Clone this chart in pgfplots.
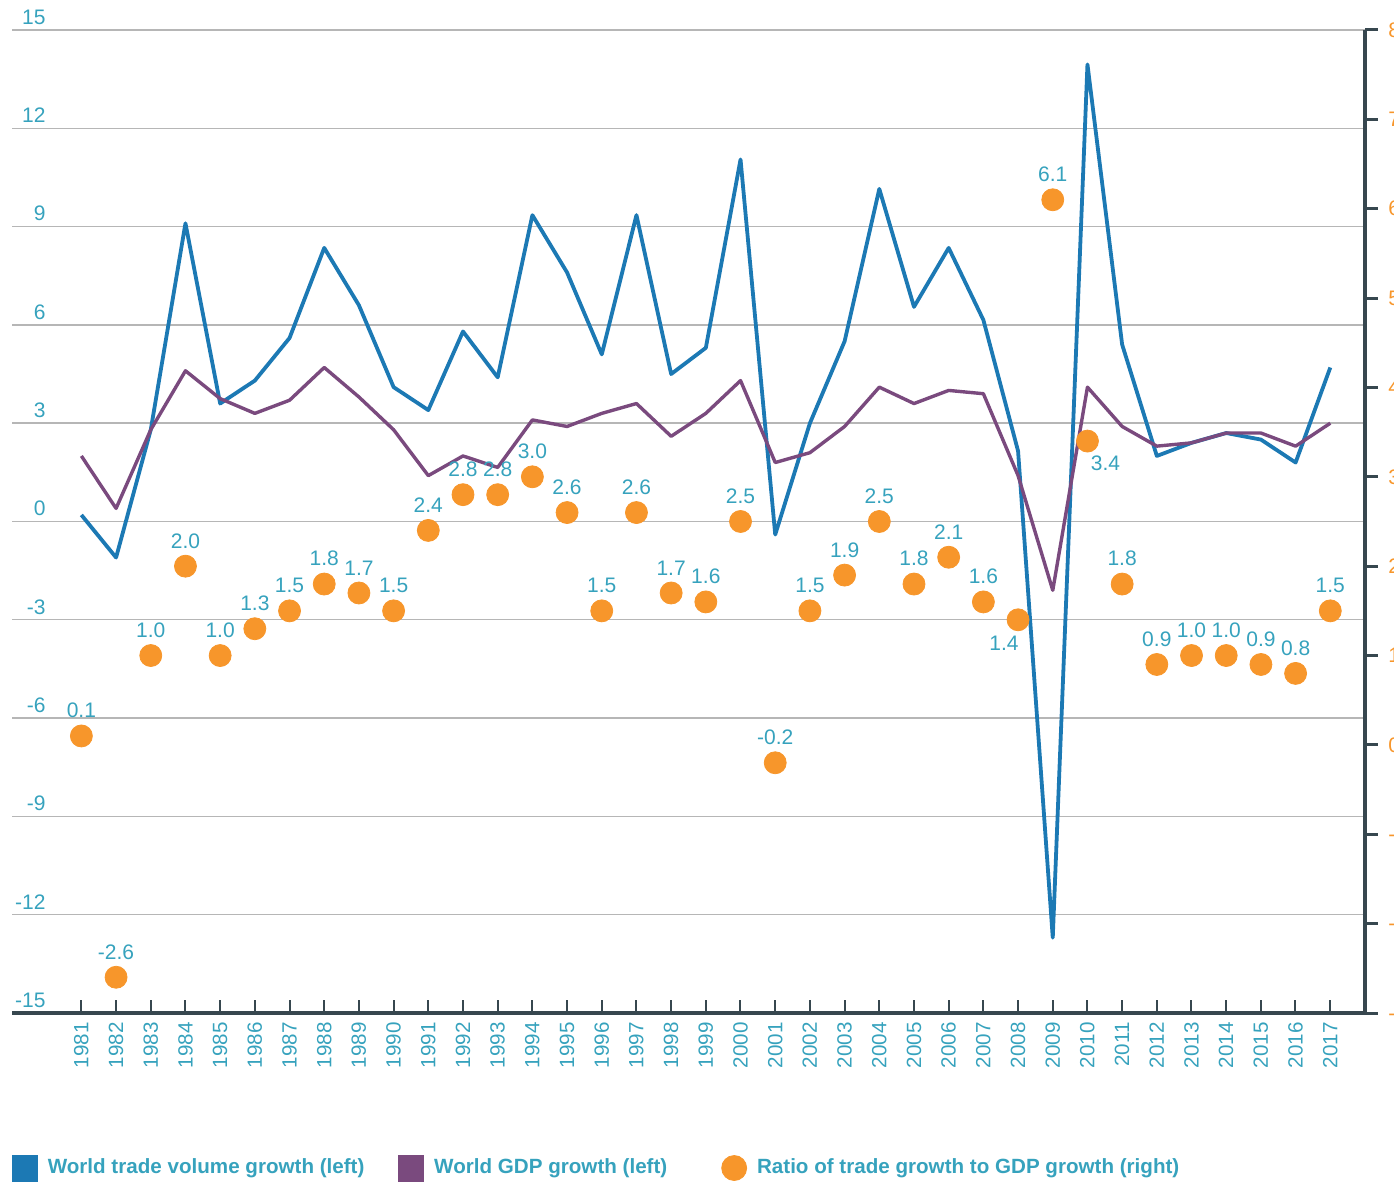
\documentclass[border=0pt]{standalone}
\usepackage{pgfplots}
\usepackage{pgfplotstable}
\pgfplotsset{compat=1.18}
\usepackage{fontspec}
\setmainfont{Liberation Sans}
\definecolor{tradeblue}{HTML}{1C79B4}
\definecolor{gdppurple}{HTML}{7A4A7E}
\definecolor{ratioorange}{HTML}{F7962B}
\definecolor{labelteal}{HTML}{36A2BD}
\definecolor{axisdark}{HTML}{37474F}
\definecolor{gridgray}{HTML}{B6B6B6}
\newcommand{\labfont}{\fontsize{10.5}{12}\selectfont}
\newcommand{\yearfont}{\fontsize{10.3}{11}\selectfont}
\newcommand{\legfont}{\fontsize{10.3}{12}\selectfont\bfseries}

\pgfplotstableread{
year trade gdp
1981 0.2 2.0
1982 -1.1 0.4
1983 2.8 2.8
1984 9.1 4.6
1985 3.6 3.75
1986 4.3 3.3
1987 5.6 3.7
1988 8.35 4.7
1989 6.6 3.8
1990 4.1 2.8
1991 3.4 1.4
1992 5.8 2.0
1993 4.4 1.65
1994 9.35 3.1
1995 7.6 2.9
1996 5.1 3.3
1997 9.35 3.6
1998 4.5 2.6
1999 5.3 3.3
2000 11.05 4.3
2001 -0.4 1.8
2002 3.0 2.1
2003 5.5 2.9
2004 10.15 4.1
2005 6.55 3.6
2006 8.35 4.0
2007 6.15 3.9
2008 2.15 1.4
2009 -12.7 -2.1
2010 13.95 4.1
2011 5.4 2.9
2012 2.0 2.3
2013 2.4 2.4
2014 2.7 2.7
2015 2.5 2.7
2016 1.8 2.3
2017 4.7 3.0
}\lines

\pgfplotstableread{
year ratio lab
1981 0.1 0.1
1982 -2.6 -2.6
1983 1.0 1.0
1984 2.0 2.0
1985 1.0 1.0
1986 1.3 1.3
1987 1.5 1.5
1988 1.8 1.8
1989 1.7 1.7
1990 1.5 1.5
1991 2.4 2.4
1992 2.8 2.8
1993 2.8 2.8
1994 3.0 3.0
1995 2.6 2.6
1996 1.5 1.5
1997 2.6 2.6
1998 1.7 1.7
1999 1.6 1.6
2000 2.5 2.5
2001 -0.2 -0.2
2002 1.5 1.5
2003 1.9 1.9
2004 2.5 2.5
2005 1.8 1.8
2006 2.1 2.1
2007 1.6 1.6
2009 6.1 6.1
2011 1.8 1.8
2012 0.9 0.9
2013 1.0 1.0
2014 1.0 1.0
2015 0.9 0.9
2016 0.8 0.8
2017 1.5 1.5
}\ratio

\begin{document}
\begin{tikzpicture}
\begin{axis}[
  at={(0,0)}, anchor=south west,
  scale only axis, width=676.5pt, height=491.5pt,
  xmin=1979, xmax=2018, ymin=-15, ymax=15,
  axis x line*=bottom, axis y line*=left,
  axis line style={-},
  x axis line style={line width=2pt, axisdark},
  y axis line style={draw=none},
  xtick={1981,...,2017},
  xticklabels={1981,1982,1983,1984,1985,1986,1987,1988,1989,1990,1991,1992,1993,1994,1995,1996,1997,1998,1999,2000,2001,2002,2003,2004,2005,2006,2007,2008,2009,2010,2011,2012,2013,2014,2015,2016,2017},
  ytick={-15,-12,...,15},
  yticklabels={-15,-12,-9,-6,-3,0,3,6,9,12,15},
  tick align=inside,
  major tick length=6.5pt,
  xtick style={line width=1pt, axisdark},
  ytick style={draw=none},
  ymajorgrids=true,
  grid style={gridgray, line width=0.7pt},
  xticklabel style={rotate=90, anchor=east, inner sep=0pt, font=\yearfont, text=labelteal},
  xticklabel shift=4.5pt,
  yticklabel style={anchor=south east, inner sep=0pt, xshift=17pt, yshift=2.5pt, font=\labfont, text=labelteal},
]
\addplot[tradeblue, line width=1.9pt, line join=round, no marks] table[x=year, y=trade] {\lines};
\addplot[gdppurple, line width=1.7pt, line join=round, no marks] table[x=year, y=gdp] {\lines};
\end{axis}
\begin{axis}[
  at={(0,0)}, anchor=south west,
  scale only axis, width=676.5pt, height=491.5pt,
  xmin=1979, xmax=2018, ymin=-3, ymax=8,
  axis x line=none, axis y line*=right,
  axis line style={-},
  y axis line style={line width=2pt, axisdark},
  ytick={-3,...,8},
  yticklabels={-3,-2,-1,0,1,2,3,4,5,6,7,8},
  tick align=outside,
  major tick length=6.5pt,
  ytick style={line width=1.5pt, axisdark},
  yticklabel style={anchor=west, inner sep=0pt, xshift=5pt, font=\labfont, text=ratioorange},
  legend style={at={(0,-0.1577)}, anchor=west, draw=none, fill=none, inner sep=0pt, outer sep=0pt,
    font=\legfont, text=labelteal, legend columns=3,
    nodes={inner sep=0pt},
    /tikz/every odd column/.append style={column sep=5pt},
    /tikz/every even column/.append style={column sep=17pt}},
]
\addlegendimage{legend image code/.code={\fill[tradeblue] (0pt,-6.5pt) rectangle (12.5pt,6.5pt);}}
\addlegendentry{World trade volume growth (left)}
\addlegendimage{legend image code/.code={\fill[gdppurple] (0pt,-6.5pt) rectangle (12.5pt,6.5pt);}}
\addlegendentry{World GDP growth (left)\rule{10pt}{0pt}}
\addplot[only marks, mark=*, mark size=5.5pt, color=ratioorange, mark options={draw=none, fill=ratioorange},
  legend image code/.code={\fill[ratioorange] (6.25pt,0pt) circle (6.25pt);},
  nodes near coords, point meta=explicit symbolic,
  every node near coord/.append style={text=labelteal, font=\labfont, anchor=south, inner sep=0pt, yshift=8.75pt}]
  table[x=year, y=ratio, meta=lab] {\ratio};
\addlegendentry{Ratio of trade growth to GDP growth (right)}
\addplot[forget plot, only marks, mark=*, mark size=5.5pt, color=ratioorange, mark options={draw=none, fill=ratioorange},
  nodes near coords, point meta=explicit symbolic,
  every node near coord/.append style={text=labelteal, font=\labfont, anchor=center, inner sep=0pt, xshift=-7pt, yshift=-11.5pt}]
  coordinates {(2008,1.4) [1.4]};
\addplot[forget plot, only marks, mark=*, mark size=5.5pt, color=ratioorange, mark options={draw=none, fill=ratioorange},
  nodes near coords, point meta=explicit symbolic,
  every node near coord/.append style={text=labelteal, font=\labfont, anchor=center, inner sep=0pt, xshift=9pt, yshift=-11pt}]
  coordinates {(2010,3.4) [3.4]};
\end{axis}
\pgfresetboundingbox
\useasboundingbox (-6pt,-85.5pt) rectangle (691pt,506.5pt);
\end{tikzpicture}
\end{document}
